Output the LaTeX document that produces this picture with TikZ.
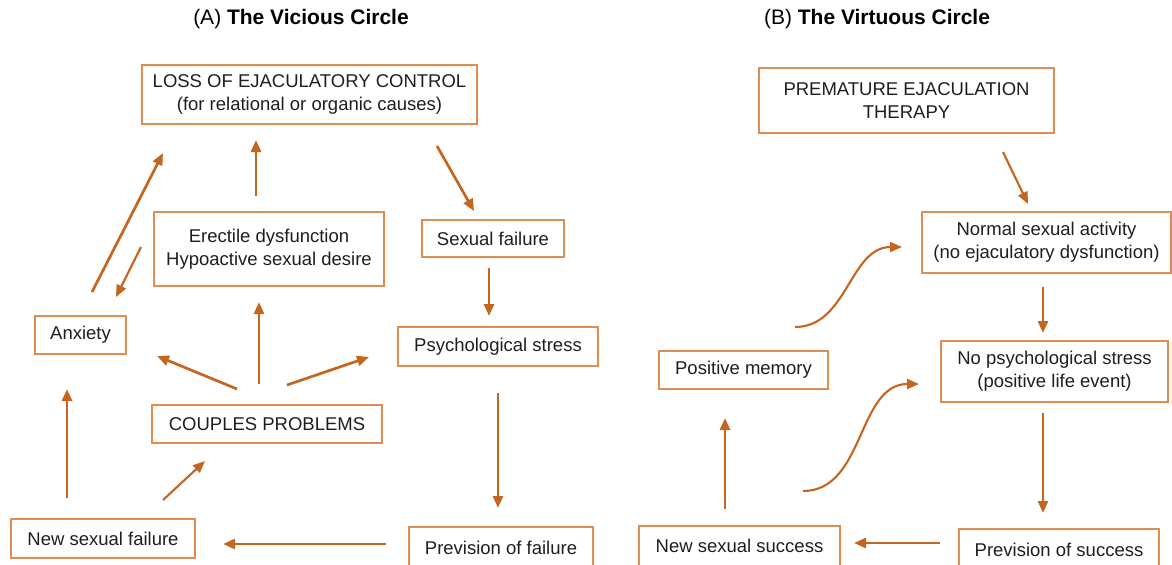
\documentclass[tikz,border=0pt]{standalone}
\usepackage{fontspec}
\setmainfont{Liberation Sans}
\usetikzlibrary{arrows.meta}
\definecolor{arrowc}{HTML}{C6651F}
\definecolor{boxc}{HTML}{E08C52}
\definecolor{txt}{HTML}{1E1E1E}
\begin{document}
\begin{tikzpicture}[x=0.5pt,y=-0.5pt,
  box/.style={draw=boxc,line width=0.9pt,rectangle,inner sep=0pt,align=center,text=txt,
    font=\fontsize{9.25}{11.5}\selectfont},
  sz/.style 2 args={minimum width=#1*0.5pt,minimum height=#2*0.5pt},
  arr/.style={draw=arrowc,line width=1.35pt,-{Triangle[length=6pt,width=5pt]}},
  carr/.style={draw=arrowc,line width=1.05pt,-{Triangle[length=6pt,width=5pt]}},
  ttl/.style={text=black,font=\fontsize{10.5}{12}\selectfont}]
\useasboundingbox (0,0) rectangle (1172,564);
% titles
\node[ttl] (tA) at (301,19) {(A) \textbf{The Vicious Circle}};
\node[ttl] (tB) at (877,19) {(B) \textbf{The Virtuous Circle}};
% A boxes
\node[box,sz={335}{59}] (loss) at (309.5,94.5) {LOSS OF EJACULATORY CONTROL\\(for relational or organic causes)};
\node[box,sz={230}{74}] (erect) at (269,249) {Erectile dysfunction\\Hypoactive sexual desire};
\node[box,sz={142}{37}] (sexf) at (493,238.5) {Sexual failure};
\node[box,sz={91}{38}] (anx) at (80.5,335) {Anxiety};
\node[box,sz={200}{39}] (psych) at (498,346.5) {Psychological stress};
\node[box,sz={230}{38}] (couples) at (267,424) {COUPLES PROBLEMS};
\node[box,sz={184}{39}] (newf) at (103,538.5) {New sexual failure};
\node[box,sz={184}{41}] (prevf) at (501,547.5) {Prevision of failure};
% B boxes
\node[box,sz={295}{65}] (prem) at (906.5,100.5) {PREMATURE EJACULATION\\THERAPY};
\node[box,sz={249}{61}] (normal) at (1046.5,242.5) {Normal sexual activity\\(no ejaculatory dysfunction)};
\node[box,sz={169}{38}] (posmem) at (743.5,370) {Positive memory};
\node[box,sz={227}{61}] (nops) at (1054.5,371.5) {No psychological stress\\(positive life event)};
\node[box,sz={200}{41}] (prevs) at (1059,549.5) {Prevision of success};
\node[box,sz={201}{40}] (news) at (739.5,546) {New sexual success};
% connector end points
\coordinate (a1s) at (92,292);   \coordinate (a1e) at (163,153);
\coordinate (a2s) at (141,247);  \coordinate (a2e) at (116,297);
\coordinate (a3s) at (256,196);  \coordinate (a3e) at (256,140);
\coordinate (a4s) at (437,146);  \coordinate (a4e) at (474,211);
\coordinate (a5s) at (489,268);  \coordinate (a5e) at (489,316);
\coordinate (a6s) at (498,393);  \coordinate (a6e) at (498,508);
\coordinate (a7s) at (386,544);  \coordinate (a7e) at (223,544);
\coordinate (a8s) at (67,498);   \coordinate (a8e) at (67,389);
\coordinate (a9s) at (163,500);  \coordinate (a9e) at (205,461);
\coordinate (a10s) at (237,389); \coordinate (a10e) at (157,356);
\coordinate (a11s) at (259,384); \coordinate (a11e) at (259,302);
\coordinate (a12s) at (287,385); \coordinate (a12e) at (369,357);
\coordinate (b1s) at (1003,152); \coordinate (b1e) at (1028,204);
\coordinate (b2s) at (1043,287); \coordinate (b2e) at (1043,333);
\coordinate (b3s) at (1043,413); \coordinate (b3e) at (1043,513);
\coordinate (b4s) at (940,543);  \coordinate (b4e) at (854,543);
\coordinate (b5s) at (725,509);  \coordinate (b5e) at (725,418);
\coordinate (b6s) at (795,327);  \coordinate (b6e) at (902,247);
\coordinate (b7s) at (803,491);  \coordinate (b7e) at (919,384);
% A arrows
\draw[arr] (a1s) -- (a1e);
\draw[arr,line width=1.05pt] (a2s) -- (a2e);
\draw[arr] (a3s) -- (a3e);
\draw[arr] (a4s) -- (a4e);
\draw[arr] (a5s) -- (a5e);
\draw[arr] (a6s) -- (a6e);
\draw[arr] (a7s) -- (a7e);
\draw[arr] (a8s) -- (a8e);
\draw[arr,line width=1.05pt] (a9s) -- (a9e);
\draw[arr] (a10s) -- (a10e);
\draw[arr] (a11s) -- (a11e);
\draw[arr] (a12s) -- (a12e);
% B arrows
\draw[arr,line width=1.05pt] (b1s) -- (b1e);
\draw[arr] (b2s) -- (b2e);
\draw[arr] (b3s) -- (b3e);
\draw[arr] (b4s) -- (b4e);
\draw[arr] (b5s) -- (b5e);
\draw[carr] (b6s) to[out=0,in=180] (b6e);
\draw[carr] (b7s) to[out=0,in=180] (b7e);
\end{tikzpicture}
\end{document}
